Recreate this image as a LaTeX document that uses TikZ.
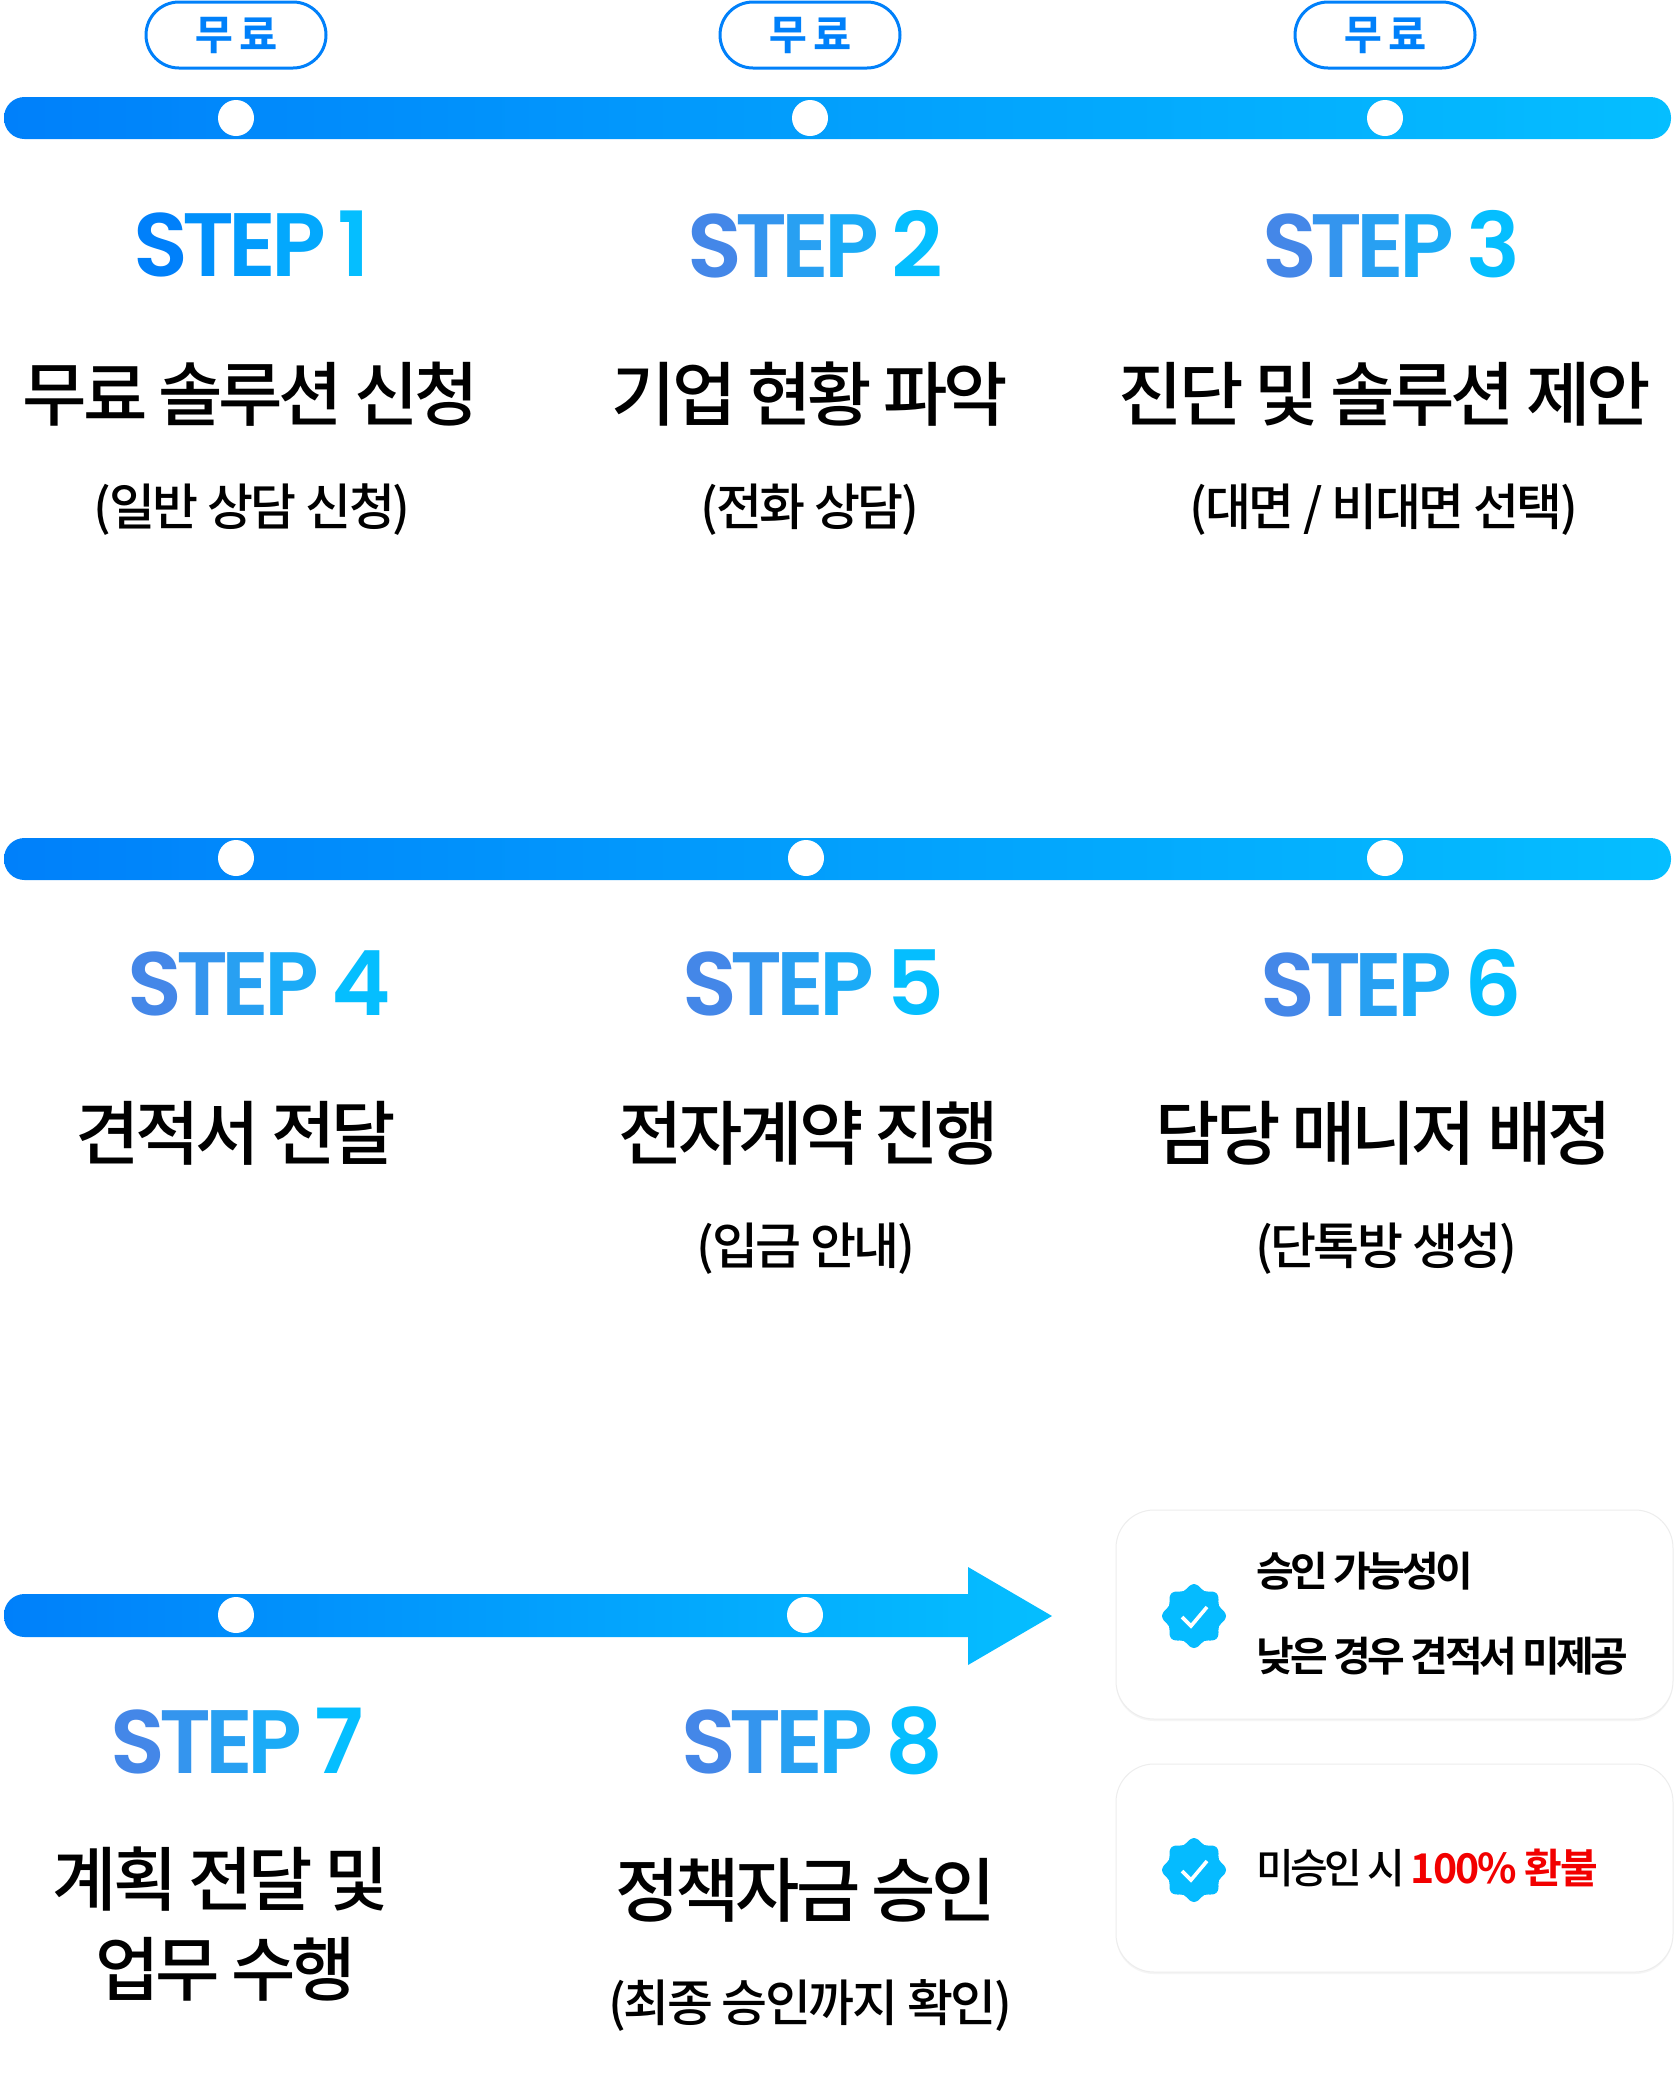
\documentclass[tikz,border=0pt]{standalone}
\usepackage{fontspec}
\usepackage{xcolor}
\usetikzlibrary{arrows,shadows}
\newfontfamily\krfont[LetterSpace=-6.2,BoldFont={Noto Sans CJK KR Bold}]{Noto Sans CJK KR Medium}
\newfontfamily\krsub[LetterSpace=-5]{Noto Sans CJK KR Medium}
\newfontfamily\krcard[LetterSpace=-9,BoldFont={Noto Sans CJK KR Bold}]{Noto Sans CJK KR Medium}
\newfontfamily\krrefund[LetterSpace=-4.5]{Noto Sans CJK KR Bold}
\newfontfamily\krtag[FakeBold=0.6]{Noto Sans CJK KR Bold}
\newfontfamily\stepfont{Poppins SemiBold}
\definecolor{barleft}{HTML}{0080FA}
\definecolor{barright}{HTML}{05BEFF}
\definecolor{steplow}{HTML}{4487E8}
\definecolor{badge}{HTML}{05BBFF}
\definecolor{refund}{HTML}{F20000}
% gradient step label, one colour per letter
\newcommand{\steplabel}[3]{{\stepfont\fontsize{90}{92}\selectfont\color{#1!100!#2}S\kern-6pt\color{#1!75!#2}T\kern-6pt\color{#1!55!#2}E\kern-5pt\color{#1!35!#2}P\hspace{.13em}\color{#2}#3}}
\newcommand{\barshade}[2]{\shade[left color=barleft,right color=barright,rounded corners=20.5pt] (4,#1-21) rectangle (#2,#1+21);}
\newcommand{\dotmark}[2]{\fill[white] (#1,#2) circle (18);}
\newcommand{\freetag}[2]{\draw[line width=3pt,draw=barleft,rounded corners=33pt] (#1-90,2) rectangle (#1+90,68);
\draw (#1,35) node[text=barleft] (#2) {\krtag\fontsize{41}{43}\selectfont 무\hspace{.16em}료};}
\newcommand{\checkbadge}[2]{\fill[badge] plot[smooth cycle,samples=48,domain=0:352.5,variable=\t] ({#1+(29.5+2.5*cos(8*\t))*cos(\t)},{#2+(29.5+2.5*cos(8*\t))*sin(\t)});
\draw[white,line width=3.6pt,line join=miter,line cap=butt] (#1-12,#2+1) -- (#1-3,#2+10) -- (#1+13,#2-9);}
\tikzset{
  title/.style={text=black,inner sep=0pt,font=\krfont\fontsize{70}{90}\selectfont,align=center},
  subtitle/.style={text=black,inner sep=0pt,font=\krsub\fontsize{50}{60}\selectfont},
  cardtext/.style={text=black,inner sep=0pt,anchor=west,font=\krcard\fontsize{41}{50}\selectfont},
  card/.style={fill=white,draw=black!7,line width=1pt,rounded corners=38pt,drop shadow={opacity=.08,shadow xshift=0pt,shadow yshift=-2pt}}
}
\begin{document}
\begin{tikzpicture}[line cap=round,line join=round,>=triangle 45,x=1pt,y=-1pt]
\useasboundingbox (0,0) rectangle (1678,2089);
\fill[white] (0,0) rectangle (1678,2089);
% row 1
\barshade{118}{1671}
\foreach \x in {236,810,1385} {\dotmark{\x}{118}}
\freetag{236}{tag1}
\freetag{810}{tag2}
\freetag{1385}{tag3}
\draw (252,244) node (step1) {\steplabel{barleft}{barright}{1}};
\draw (815,244) node (step2) {\steplabel{steplow}{barright}{2}};
\draw (1391,244) node (step3) {\steplabel{steplow}{barright}{3}};
\draw (251,394) node[title] (title1) {무료 솔루션 신청};
\draw (810,394) node[title] (title2) {기업 현황 파악};
\draw (1385,394) node[title] (title3) {진단 및 솔루션 제안};
\draw (252,510) node[subtitle] (sub1) {(일반 상담 신청)};
\draw (810,510) node[subtitle] (sub2) {(전화 상담)};
\draw (1384,510) node[subtitle] (sub3) {(대면 / 비대면 선택)};
% row 2
\barshade{859}{1671}
\dotmark{236}{858}
\dotmark{806}{858}
\dotmark{1385}{858}
\draw (259,983) node (step4) {\steplabel{steplow}{barright}{4}};
\draw (813,983) node (step5) {\steplabel{steplow}{barright}{5}};
\draw (1391,983) node (step6) {\steplabel{steplow}{barright}{6}};
\draw (236,1133) node[title] (title4) {견적서 전달};
\draw (809,1133) node[title] (title5) {전자계약 진행};
\draw (1384,1133) node[title] (title6) {담당 매니저 배정};
\draw (806,1249) node[subtitle] (sub5) {(입금 안내)};
\draw (1386,1249) node[subtitle] (sub6) {(단톡방 생성)};
% row 3
\shade[left color=barleft,right color=barright] (30,1637) [rounded corners=20.5pt] -- (4,1637) -- (4,1594) [sharp corners] -- (968,1594) -- (968,1567) -- (1052,1616) -- (968,1665) -- (968,1637) -- cycle;
\dotmark{236}{1615}
\dotmark{805}{1615}
\draw (237,1741) node (step7) {\steplabel{steplow}{barright}{7}};
\draw (812,1741) node (step8) {\steplabel{steplow}{barright}{8}};
\draw (221,1879) node[title] (title7a) {계획 전달 및};
\draw (226,1969) node[title] (title7b) {업무 수행};
\draw (806,1890) node[title] (title8) {정책자금 승인};
\draw (810,2005) node[subtitle] (sub8) {(최종 승인까지 확인)};
% cards
\draw[card] (1116,1510) rectangle (1673,1719);
\draw[card] (1116,1764) rectangle (1673,1972);
\checkbadge{1194}{1616}
\checkbadge{1194}{1870}
\draw (1256,1571) node[cardtext] (note1a) {\bfseries 승인 가능성이};
\draw (1256,1656) node[cardtext] (note1b) {\bfseries 낮은 경우 견적서 미제공};
\draw (1256,1868) node[cardtext] (note2) {미승인 시 \textcolor{refund}{\krrefund 100\% 환불}};
\end{tikzpicture}
\end{document}
